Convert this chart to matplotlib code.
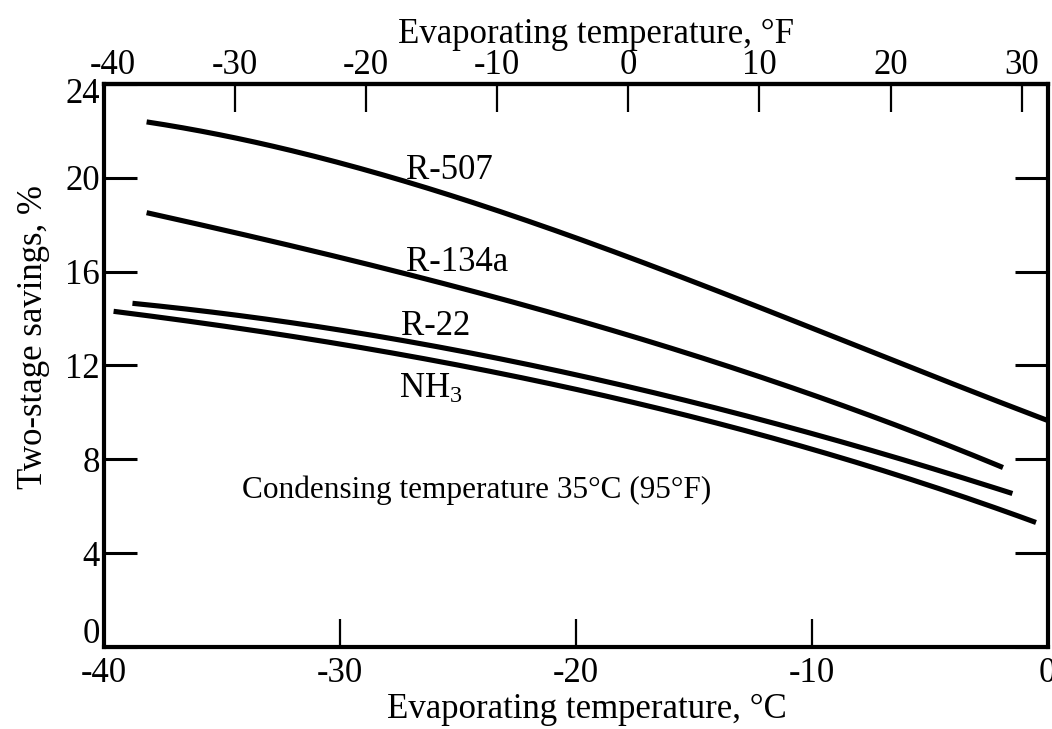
import matplotlib
matplotlib.use("Agg")
import matplotlib.pyplot as plt
import matplotlib.transforms as mtransforms
import numpy as np

plt.rcParams["font.family"] = ["Liberation Serif", "DejaVu Serif"]
plt.rcParams["mathtext.fontset"] = "custom"
plt.rcParams["mathtext.rm"] = "Liberation Serif"
plt.rcParams["mathtext.it"] = "Liberation Serif"

# Two-stage savings (%) versus evaporating temperature (°C)
r507_t = [-38.2, -35, -30, -25, -20, -15, -10, -5, 0]
r507_s = [22.4, 21.8, 20.6, 19.1, 17.5, 15.6, 13.6, 11.5, 9.7]

r134a_t = [-38.2, -35, -30, -25, -20, -15, -10, -5, -1.9]
r134a_s = [18.5, 17.8, 16.6, 15.3, 14.0, 12.4, 10.7, 9.0, 7.6]

r22_t = [-38.8, -35, -30, -25, -20, -15, -10, -5, -1.5]
r22_s = [14.6, 14.3, 13.5, 12.6, 11.6, 10.4, 9.1, 7.7, 6.5]

nh3_t = [-39.6, -35, -30, -25, -20, -15, -10, -5, -0.5]
nh3_s = [14.3, 13.7, 12.9, 12.0, 11.0, 9.8, 8.4, 6.9, 5.3]

c_ticks = [-40, -30, -20, -10, 0]
f_ticks = [-40, -30, -20, -10, 0, 10, 20, 30]
s_ticks = [0, 4, 8, 12, 16, 20, 24]


def smooth(t, s, n=200):
    coef = np.polyfit(t, s, 3)
    tt = np.linspace(t[0], t[-1], n)
    return tt, np.polyval(coef, tt)


fig = plt.figure(figsize=(10.52, 7.29), dpi=100)
ax = fig.add_axes([0.099, 0.1125, 0.897, 0.7725])

for t, s in [(r507_t, r507_s), (r134a_t, r134a_s), (r22_t, r22_s), (nh3_t, nh3_s)]:
    tt, ss = smooth(t, s)
    ax.plot(tt, ss, color="black", lw=3.7, solid_capstyle="butt")

ax.set_xlim(-40, 0)
ax.set_ylim(0, 24)

for sp in ax.spines.values():
    sp.set_linewidth(3.0)

ax.set_xticks(c_ticks)
ax.set_xticklabels(["-40", "-30", "-20", "-10", "0"])
ax.set_yticks(s_ticks)
ax.tick_params(axis="x", direction="in", length=20, width=1.6, labelsize=25, pad=7)
ax.tick_params(axis="y", direction="in", length=24, width=2.2, labelsize=25, pad=3,
               right=True)

# keep the corner labels clear of each other
ylabels = ax.get_yticklabels()
shift_up = mtransforms.ScaledTranslation(0, 12 / 72, fig.dpi_scale_trans)
shift_dn = mtransforms.ScaledTranslation(0, -5 / 72, fig.dpi_scale_trans)
ylabels[0].set_transform(ylabels[0].get_transform() + shift_up)
ylabels[-1].set_transform(ylabels[-1].get_transform() + shift_dn)

sec = ax.secondary_xaxis("top", functions=(lambda c: c * 9 / 5 + 32,
                                            lambda f: (f - 32) * 5 / 9))
sec.set_xticks(f_ticks)
sec.set_xticklabels([str(v) for v in f_ticks])
sec.tick_params(axis="x", direction="in", length=20, width=1.6, labelsize=25, pad=1)
sec.spines["top"].set_linewidth(3.0)
top_labels = sec.get_xticklabels()
shift_rt = mtransforms.ScaledTranslation(6 / 72, 0, fig.dpi_scale_trans)
top_labels[0].set_transform(top_labels[0].get_transform() + shift_rt)
sec.set_xlabel("Evaporating temperature, °F", fontsize=25)
sec.xaxis.set_label_coords(0.521, 1.072, transform=ax.transAxes)

ax.set_xlabel("Evaporating temperature, °C", fontsize=25)
ax.xaxis.set_label_coords(0.512, -0.082)
ax.set_ylabel("Two-stage savings, %", fontsize=25)
ax.yaxis.set_label_coords(-0.057, 0.55)

ax.text(-27.2, 19.95, "R-507", fontsize=25, ha="left", va="baseline")
ax.text(-27.2, 16.04, "R-134a", fontsize=25, ha="left", va="baseline")
ax.text(-27.4, 13.28, "R-22", fontsize=25, ha="left", va="baseline")
ax.text(-27.5, 10.6, "NH$_3$", fontsize=25, ha="left", va="baseline")
ax.text(-34.15, 6.34, "Condensing temperature 35°C (95°F)", fontsize=22.5,
        ha="left", va="baseline")

fig.savefig("out.png", dpi=100)
